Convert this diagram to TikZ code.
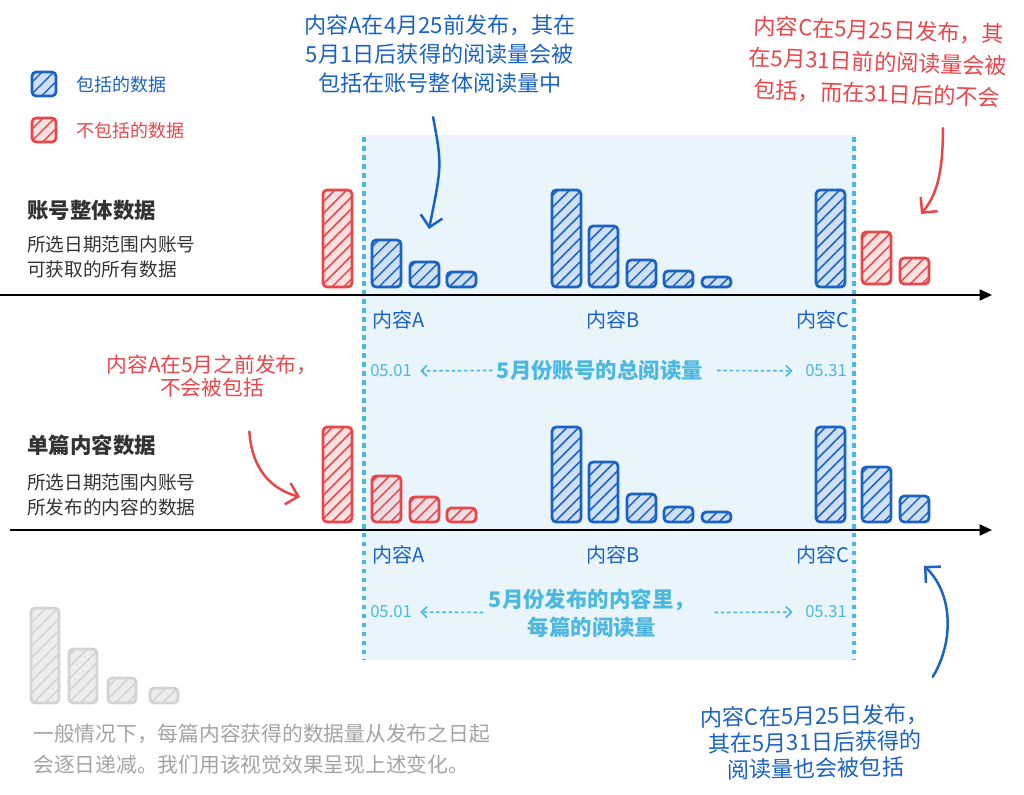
\documentclass[tikz,border=0pt]{standalone}
\usepackage{fontspec}
\setmainfont{Noto Sans CJK SC}
\usepackage{tikz}
\usetikzlibrary{arrows.meta, positioning, patterns.meta}
\definecolor{inkblue}{HTML}{1A62C4}
\definecolor{washblue}{HTML}{CFE0F4}
\definecolor{inkred}{HTML}{E9464B}
\definecolor{washred}{HTML}{FCE1E1}
\definecolor{dimred}{HTML}{EEDDE2}
\definecolor{sky}{HTML}{4DB8DF}
\definecolor{skybg}{HTML}{EAF4FB}
\definecolor{ash}{HTML}{D3D3D3}
\definecolor{ashbg}{HTML}{EDEDED}
\definecolor{ink}{HTML}{333333}
\definecolor{greytext}{HTML}{A3A3A3}

\begin{document}
\begin{tikzpicture}[x=0.0254cm, y=-0.0254cm, >=Stealth,
  bar/.style 2 args={draw=#1, line width=2pt, rounded corners=3pt, preaction={fill=#2},
                     pattern={Lines[angle=45,distance=6pt,line width=1.1pt]}, pattern color=#1},
  hand/.style={line width=1.8pt, line cap=round, -{Straight Barb[length=8pt,width=16pt]}},
  note/.style={align=center, inner sep=0pt, font=\fontsize{16}{21}\selectfont},
  cname/.style={text=inkblue, inner sep=0pt, font=\fontsize{14.5}{17}\selectfont},
  date/.style={text=sky, inner sep=0pt, font=\fontsize{12}{14}\selectfont},
  span/.style={text=sky, align=center, inner sep=0pt, font=\bfseries\fontsize{15.5}{20}\selectfont},
  spanarr/.style={sky, line width=1.2pt, dash pattern=on 2.5pt off 2pt, -{Straight Barb[length=4pt,width=8pt]}},
  head/.style={text=ink, anchor=west, inner sep=0pt, font=\bfseries\fontsize{15.5}{18}\selectfont},
  desc/.style={text=ink, anchor=west, align=left, inner sep=0pt, font=\fontsize{13.5}{18.5}\selectfont}]
  \useasboundingbox (0,0) rectangle (1024,795);
  % --- May window ---
  \fill[skybg] (362,135) rectangle (856,660);
  \draw[sky, line width=2.4pt, dash pattern=on 3.5pt off 3pt] (364,137) -- (364,660) (854,137) -- (854,660);
  % --- legend ---
  \draw[bar={inkblue}{washblue}] (32,72) rectangle (56,96);
  \node[anchor=west, text=inkblue, font=\fontsize{13}{15}\selectfont] (lgin) at (72,85) {包括的数据};
  \draw[bar={inkred}{washred}] (32,118) rectangle (56,142);
  \node[anchor=west, text=inkred, font=\fontsize{13}{15}\selectfont] (lgout) at (72,131) {不包括的数据};
  % --- row 1: account data ---
  \node[head] (acct) at (27,210) {账号整体数据};
  \node[desc] (acctd) at (27,257) {所选日期范围内账号\\可获取的所有数据};
  \coordinate (o1) at (0,295);
  \coordinate (e1) at (992,295);
  \draw[line width=1.4pt, -{Triangle[length=9pt,width=8pt]}] (o1) -- (e1);
  \foreach \x/\t in {372/240, 410/262, 447/272, 552/190, 589/226, 627/260, 664/271, 702/277, 816/190}
    \draw[bar={inkblue}{washblue}] (\x,\t) rectangle (\x+29,287);
  \draw[bar={inkred}{washred}] (323,190) rectangle (352,287);
  \foreach \x/\t in {862/232, 900/258}
    \draw[bar={inkred}{washred}] (\x,\t) rectangle (\x+29,284);
  \node[cname, anchor=west] (ca1) at (372,320) {内容A};
  \node[cname] (cb1) at (613,320) {内容B};
  \node[cname, anchor=east] (cc1) at (850,320) {内容C};
  \node[date] (d01a) at (391,371) {05.01};
  \node[span] (spa) at (600,370) {5月份账号的总阅读量};
  \node[date] (d31a) at (826,371) {05.31};
  \draw[spanarr, shorten <=3pt, shorten >=6pt] (spa) -- (d01a);
  \draw[spanarr, shorten <=10pt, shorten >=9pt] (spa) -- (d31a);
  % --- row 2: single content data ---
  \node[head] (post) at (27,445) {单篇内容数据};
  \node[desc] (postd) at (27,495) {所选日期范围内账号\\所发布的内容的数据};
  \coordinate (o2) at (10,530);
  \coordinate (e2) at (992,530);
  \draw[line width=1.4pt, -{Triangle[length=9pt,width=8pt]}] (o2) -- (e2);
  \draw[bar={inkred}{washred}] (323,427) rectangle (352,522);
  \foreach \x/\t in {372/476, 410/497, 447/508}
    \draw[bar={inkred}{dimred}] (\x,\t) rectangle (\x+29,522);
  \foreach \x/\t in {552/427, 589/462, 627/494, 664/507, 702/512, 816/427, 862/467, 900/496}
    \draw[bar={inkblue}{washblue}] (\x,\t) rectangle (\x+29,522);
  \node[cname, anchor=west] (ca2) at (372,555) {内容A};
  \node[cname] (cb2) at (613,555) {内容B};
  \node[cname, anchor=east] (cc2) at (850,555) {内容C};
  \node[date] (d01b) at (391,612) {05.01};
  \node[span] (spb) at (592,613) {5月份发布的内容里，\\每篇的阅读量};
  \node[date] (d31b) at (826,612) {05.31};
  \draw[spanarr, shorten <=4pt, shorten >=6pt] (spb) -- (d01b);
  \draw[spanarr, shorten <=14pt, shorten >=9pt] (spb) -- (d31b);
  % --- decay sample ---
  \foreach \x/\t in {31/608, 69/649, 108/678, 150/688}
    \draw[bar={ash}{ashbg}] (\x,\t) rectangle (\x+28,703);
  \node[anchor=west, text=greytext, align=left, inner sep=0pt, font=\fontsize{15}{23}\selectfont] (gen) at (33,749)
    {一般情况下，每篇内容获得的数据量从发布之日起\\会逐日递减。我们用该视觉效果呈现上述变化。};
  % --- notes ---
  \node[note, text=inkblue] (noteA) at (440,54) {内容A在4月25前发布，其在\\5月1日后获得的阅读量会被\\包括在账号整体阅读量中};
  \coordinate (tipA) at (429,229);
  \draw[hand, inkblue] ([xshift=-5pt,yshift=-17pt]noteA.south) .. controls (442,165) .. (tipA);
  \node[note, text=inkred, rotate=-2, font=\fontsize{16}{23}\selectfont] (noteC) at (878,62) {内容C在5月25日发布，其\\在5月31日前的阅读量会被\\包括，而在31日后的不会};
  \coordinate (tipC) at (921,214);
  \draw[hand, inkred] ([xshift=48pt,yshift=-17pt]noteC.south) .. controls (943,175) and (936,196) .. (tipC);
  \node[note, text=inkred, font=\fontsize{15}{16}\selectfont] (noteAout) at (212,376) {内容A在5月之前发布，\\不会被包括};
  \coordinate (tipAout) at (300,497);
  \draw[hand, inkred] ([xshift=27pt,yshift=-25pt]noteAout.south) .. controls (252,472) and (274,490) .. (tipAout);
  \node[note, text=inkblue, rotate=1, font=\fontsize{16}{19}\selectfont] (noteCin) at (815,742) {内容C在5月25日发布，\\其在5月31日后获得的\\阅读量也会被包括};
  \coordinate (tipCin) at (924,566);
  \draw[hand, inkblue] ([xshift=3pt,yshift=19pt]noteCin.north east) .. controls (955,640) and (952,592) .. (tipCin);
\end{tikzpicture}
\end{document}
